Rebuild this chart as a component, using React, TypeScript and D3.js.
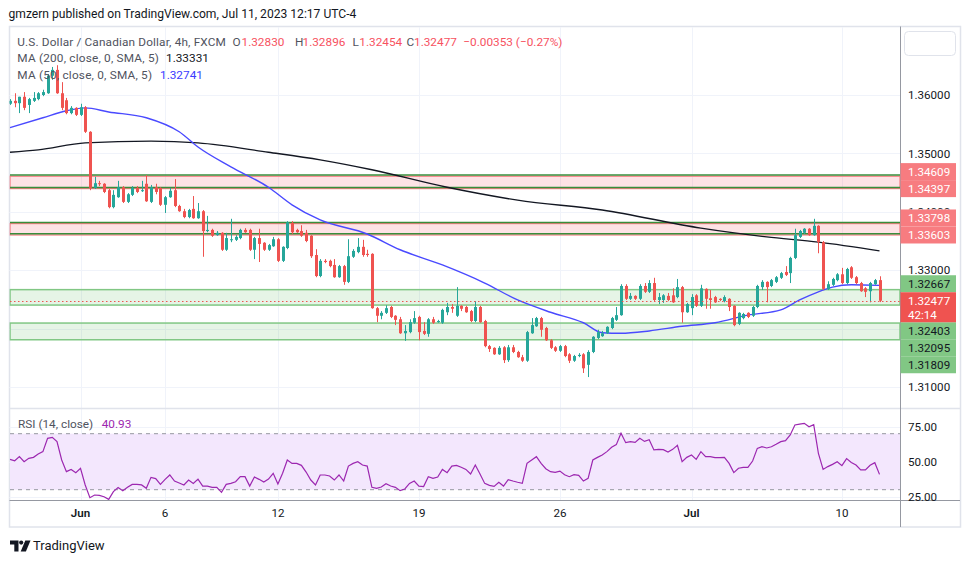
import React from 'react';
import * as d3 from 'd3';

// ---------- data ----------
const opens = [1.3585,1.3590,1.3586,1.3597,1.3583,1.3590,1.3593,1.3600,1.3603,1.3633,1.3643,1.3603,1.3591,1.3569,1.3578,1.3566,1.3579,1.3537,1.3441,1.3449,1.3448,1.3437,1.3408,1.3425,1.3442,1.3417,1.3429,1.3441,1.3436,1.3448,1.3417,1.3442,1.3441,1.3412,1.3425,1.3437,1.3410,1.3401,1.3391,1.3405,1.3389,1.3401,1.3367,1.3369,1.3360,1.3364,1.3335,1.3352,1.3352,1.3355,1.3369,1.3369,1.3335,1.3355,1.3347,1.3335,1.3341,1.3353,1.3316,1.3338,1.3381,1.3369,1.3367,1.3364,1.3359,1.3326,1.3290,1.3316,1.3316,1.3309,1.3288,1.3307,1.3280,1.3323,1.3331,1.3340,1.3328,1.3328,1.3235,1.3222,1.3227,1.3237,1.3222,1.3216,1.3192,1.3194,1.3210,1.3220,1.3196,1.3191,1.3216,1.3211,1.3210,1.3228,1.3237,1.3222,1.3239,1.3237,1.3230,1.3213,1.3237,1.3213,1.3170,1.3167,1.3156,1.3168,1.3146,1.3168,1.3160,1.3151,1.3145,1.3192,1.3204,1.3218,1.3201,1.3180,1.3168,1.3162,1.3170,1.3156,1.3145,1.3153,1.3156,1.3138,1.3160,1.3184,1.3187,1.3192,1.3201,1.3215,1.3223,1.3273,1.3251,1.3256,1.3251,1.3273,1.3263,1.3278,1.3249,1.3249,1.3256,1.3257,1.3254,1.3271,1.3228,1.3235,1.3257,1.3239,1.3268,1.3252,1.3254,1.3251,1.3247,1.3251,1.3239,1.3208,1.3218,1.3227,1.3222,1.3237,1.3271,1.3280,1.3273,1.3280,1.3287,1.3297,1.3295,1.3321,1.3357,1.3364,1.3371,1.3360,1.3376,1.3348,1.3268,1.3275,1.3283,1.3293,1.3278,1.3305,1.3288,1.3278,1.3269,1.3264,1.3276,1.32830];
const highs = [1.3593,1.3603,1.3597,1.3605,1.3595,1.3605,1.3605,1.3609,1.3636,1.3648,1.3651,1.3622,1.3595,1.3581,1.3579,1.3585,1.3581,1.3538,1.3460,1.3453,1.3449,1.3439,1.3437,1.3453,1.3444,1.3432,1.3444,1.3444,1.3453,1.3463,1.3446,1.3448,1.3442,1.3427,1.3441,1.3456,1.3412,1.3405,1.3405,1.3427,1.3415,1.3403,1.3393,1.3371,1.3367,1.3365,1.3364,1.3388,1.3360,1.3371,1.3372,1.3371,1.3357,1.3371,1.3348,1.3345,1.3357,1.3355,1.3341,1.3384,1.3384,1.3371,1.3377,1.3369,1.3360,1.3336,1.3319,1.3319,1.3318,1.3319,1.3309,1.3309,1.3353,1.3336,1.3355,1.3352,1.3335,1.3329,1.3237,1.3230,1.3240,1.3239,1.3223,1.3220,1.3206,1.3216,1.3230,1.3222,1.3211,1.3218,1.3220,1.3215,1.3234,1.3244,1.3242,1.3271,1.3240,1.3239,1.3232,1.3247,1.3239,1.3215,1.3172,1.3168,1.3170,1.3170,1.3172,1.3172,1.3162,1.3155,1.3196,1.3218,1.3220,1.3220,1.3203,1.3182,1.3170,1.3172,1.3172,1.3158,1.3155,1.3158,1.3158,1.3163,1.3187,1.3198,1.3196,1.3204,1.3220,1.3237,1.3276,1.3276,1.3261,1.3257,1.3276,1.3278,1.3283,1.3287,1.3261,1.3259,1.3261,1.3269,1.3285,1.3273,1.3244,1.3259,1.3259,1.3275,1.3269,1.3266,1.3256,1.3252,1.3257,1.3252,1.3240,1.3228,1.3227,1.3228,1.3239,1.3275,1.3283,1.3281,1.3285,1.3290,1.3297,1.3307,1.3323,1.3371,1.3369,1.3372,1.3372,1.3388,1.3377,1.3350,1.3281,1.3287,1.3295,1.3304,1.3304,1.3307,1.3290,1.3280,1.3271,1.3280,1.3285,1.32896];
const lows = [1.3583,1.3579,1.3569,1.3574,1.3569,1.3588,1.3591,1.3598,1.3602,1.3626,1.3602,1.3574,1.3567,1.3567,1.3564,1.3564,1.3535,1.3437,1.3439,1.3444,1.3432,1.3406,1.3406,1.3424,1.3415,1.3415,1.3427,1.3432,1.3434,1.3417,1.3415,1.3430,1.3410,1.3398,1.3424,1.3408,1.3400,1.3389,1.3389,1.3388,1.3388,1.3323,1.3365,1.3357,1.3359,1.3333,1.3333,1.3348,1.3350,1.3353,1.3364,1.3333,1.3319,1.3314,1.3333,1.3333,1.3340,1.3314,1.3314,1.3336,1.3362,1.3364,1.3357,1.3348,1.3321,1.3288,1.3288,1.3312,1.3305,1.3287,1.3287,1.3275,1.3278,1.3321,1.3329,1.3323,1.3323,1.3234,1.3211,1.3216,1.3225,1.3218,1.3206,1.3191,1.3179,1.3192,1.3208,1.3180,1.3189,1.3186,1.3208,1.3210,1.3208,1.3223,1.3227,1.3220,1.3230,1.3227,1.3211,1.3211,1.3210,1.3168,1.3160,1.3155,1.3155,1.3141,1.3143,1.3158,1.3150,1.3143,1.3143,1.3191,1.3203,1.3186,1.3179,1.3165,1.3160,1.3160,1.3151,1.3141,1.3143,1.3151,1.3124,1.3117,1.3158,1.3182,1.3186,1.3191,1.3199,1.3213,1.3222,1.3249,1.3249,1.3249,1.3249,1.3261,1.3261,1.3247,1.3242,1.3244,1.3247,1.3244,1.3252,1.3210,1.3227,1.3223,1.3237,1.3237,1.3234,1.3234,1.3244,1.3247,1.3245,1.3230,1.3204,1.3206,1.3216,1.3218,1.3220,1.3235,1.3266,1.3245,1.3271,1.3278,1.3285,1.3290,1.3278,1.3319,1.3355,1.3362,1.3359,1.3359,1.3329,1.3266,1.3266,1.3273,1.3281,1.3276,1.3276,1.3285,1.3276,1.3263,1.3254,1.3245,1.3275,1.32454];
const closes = [1.3590,1.3586,1.3597,1.3578,1.3593,1.3595,1.3603,1.3605,1.3633,1.3643,1.3603,1.3578,1.3569,1.3578,1.3566,1.3579,1.3537,1.3441,1.3449,1.3448,1.3434,1.3408,1.3429,1.3442,1.3417,1.3430,1.3441,1.3434,1.3437,1.3418,1.3442,1.3434,1.3412,1.3425,1.3436,1.3410,1.3401,1.3391,1.3403,1.3389,1.3401,1.3367,1.3369,1.3359,1.3364,1.3335,1.3355,1.3353,1.3357,1.3369,1.3365,1.3335,1.3355,1.3345,1.3335,1.3343,1.3353,1.3316,1.3340,1.3382,1.3365,1.3365,1.3359,1.3350,1.3324,1.3290,1.3316,1.3314,1.3307,1.3288,1.3307,1.3280,1.3324,1.3333,1.3340,1.3326,1.3326,1.3235,1.3222,1.3227,1.3235,1.3220,1.3215,1.3192,1.3196,1.3211,1.3218,1.3194,1.3191,1.3216,1.3210,1.3213,1.3232,1.3237,1.3234,1.3239,1.3234,1.3228,1.3213,1.3237,1.3211,1.3170,1.3165,1.3156,1.3167,1.3146,1.3168,1.3160,1.3151,1.3145,1.3194,1.3206,1.3218,1.3198,1.3180,1.3167,1.3162,1.3170,1.3153,1.3145,1.3153,1.3155,1.3132,1.3160,1.3186,1.3194,1.3192,1.3203,1.3218,1.3223,1.3273,1.3251,1.3256,1.3251,1.3273,1.3263,1.3278,1.3249,1.3254,1.3257,1.3249,1.3245,1.3271,1.3228,1.3242,1.3254,1.3239,1.3269,1.3251,1.3249,1.3245,1.3249,1.3254,1.3237,1.3206,1.3227,1.3225,1.3220,1.3237,1.3273,1.3280,1.3271,1.3283,1.3288,1.3295,1.3292,1.3321,1.3360,1.3367,1.3371,1.3360,1.3376,1.3348,1.3268,1.3276,1.3285,1.3293,1.3278,1.3302,1.3287,1.3278,1.3264,1.3263,1.3278,1.3283,1.32477];

const rsiValues = [51.7,50.7,53.6,50.0,52.4,53.1,55.5,57.2,66.7,67.4,64.3,51.2,42.9,44.5,42.2,45.3,33.4,24.3,26.2,26.0,25.0,23.1,28.6,31.5,29.3,31.7,33.8,33.8,33.4,31.0,38.8,37.9,33.8,37.4,40.5,36.2,34.8,33.4,36.9,34.5,37.6,32.6,32.6,31.7,31.7,28.1,33.8,34.5,35.7,39.3,39.3,32.6,39.1,37.4,35.5,37.6,41.7,34.1,41.7,51.2,48.8,48.8,47.4,42.6,36.9,33.4,40.5,40.5,39.8,36.9,40.5,36.2,46.9,48.8,50.0,47.6,46.9,31.7,31.0,31.9,34.3,32.6,31.7,29.3,30.5,34.5,36.2,32.6,32.2,39.3,38.1,39.1,44.5,42.2,46.9,47.4,46.0,44.5,41.2,47.6,41.2,34.5,33.1,32.4,35.3,32.6,37.2,36.2,35.3,34.5,48.8,51.2,53.6,48.8,45.0,42.9,42.4,43.3,40.7,39.3,40.7,40.3,36.2,38.1,51.2,53.1,54.8,57.2,60.3,62.2,70.3,63.6,64.3,63.8,66.7,64.5,65.7,58.4,58.8,58.6,56.9,58.8,61.7,50.0,53.1,54.8,51.7,57.2,53.6,53.6,52.9,52.9,53.1,48.8,42.2,45.3,46.0,46.0,50.5,59.5,60.7,59.8,60.7,62.4,64.3,65.0,69.1,76.2,76.9,77.4,75.0,76.5,56.0,44.5,46.5,48.1,50.0,47.2,52.2,49.5,47.6,44.1,44.1,47.4,49.3,40.93];

const ma50Idx = [0,7,12,16,21,29,36,40,47,55,60,66,76,83,92,101,108,115,122,126,130,136,143,150,157,164,168,172,175,179,185];
const ma50Val = [1.3544,1.3561,1.3573,1.3578,1.3571,1.3561,1.3537,1.3511,1.3477,1.3442,1.3412,1.3386,1.3362,1.3335,1.3309,1.3278,1.3249,1.3228,1.3210,1.3193,1.3192,1.3196,1.3204,1.3210,1.3223,1.3232,1.3249,1.3263,1.3271,1.3275,1.32741];
const ma200Idx = [0,6,16,30,40,55,66,77,93,108,126,147,161,172,185];
const ma200Val = [1.3502,1.3506,1.3518,1.3521,1.3518,1.3502,1.3489,1.3472,1.3442,1.3420,1.3403,1.3372,1.3357,1.3348,1.33331];

const priceTicks = [1.36, 1.35, 1.34, 1.33, 1.32, 1.31];
const rsiTicks = [75, 50, 25];
const dateTickIdx = [15, 33, 57, 87, 117, 145, 177];
const dateTickLabels = ['Jun', '6', '12', '19', '26', 'Jul', '10'];
const dateTickMonth = [true, false, false, false, false, true, false];
const redZones = [[1.34609, 1.34397], [1.33798, 1.33603]];
const greenZones = [[1.32667, 1.32403], [1.32095, 1.31809]];
const redLevels = [1.34609, 1.34397, 1.33798, 1.33603];
const greenLevels = [1.32667, 1.32403, 1.32095, 1.31809];
const lastOHLC = ['1.32830', '1.32896', '1.32454', '1.32477'];
const lastChange = '−0.00353 (−0.27%)';
const lastPrice = 1.32477;
const countdown = '42:14';

// ---------- layout ----------
const FONT = 'Roboto, "Noto Sans", sans-serif';
const L = 9.5, R = 900.5, TOP = 27, SEP = 408, AXB = 500.5, BOT = 527;
const x = d3.scaleLinear().domain([0, 189.36]).range([10, 900]);
const y = d3.scaleLinear().domain([1.31, 1.36]).range([387, 95]);
const yR = d3.scaleLinear().domain([25, 75]).range([496.7, 426.7]);

const GREEN = '#26a69a', RED = '#ef5350';
const LBL_H = 17;

function layoutLabels() {
  const anchor = y(lastPrice);
  const aTop = anchor - 8.5, aBot = anchor + 21.5;
  const all = [
    ...redLevels.map(p => ({ p, kind: 'red' })),
    ...greenLevels.map(p => ({ p, kind: 'green' })),
  ].map(d => ({ ...d, yy: y(d.p), cy: 0 }));
  const above = all.filter(d => d.yy <= anchor).sort((a, b) => b.yy - a.yy);
  const below = all.filter(d => d.yy > anchor).sort((a, b) => a.yy - b.yy);
  let lim = aTop;
  above.forEach(d => { d.cy = Math.min(d.yy, lim - LBL_H / 2); lim = d.cy - LBL_H / 2; });
  lim = aBot;
  below.forEach(d => { d.cy = Math.max(d.yy, lim + LBL_H / 2); lim = d.cy + LBL_H / 2; });
  return { items: [...above, ...below], aTop, aBot, anchor };
}

export default function App() {
  const candleIdx = d3.range(closes.length);
  const ma50Path = d3.line<number>().x(i => x(ma50Idx[i])).y(i => y(ma50Val[i])).curve(d3.curveMonotoneX)(d3.range(ma50Idx.length));
  const ma200Path = d3.line<number>().x(i => x(ma200Idx[i])).y(i => y(ma200Val[i])).curve(d3.curveMonotoneX)(d3.range(ma200Idx.length));
  const rsiPath = d3.line<number>().x(i => x(i)).y(i => yR(rsiValues[i]))(d3.range(rsiValues.length));
  const lab = layoutLabels();
  const fmt = d3.format('.5f');

  const boxes = [
    ...lab.items.map(d => [d.cy - LBL_H / 2, d.cy + LBL_H / 2]),
    [lab.aTop, lab.aBot],
  ];
  const tickVis = priceTicks.map(p => {
    const ty = y(p);
    const top = ty - 6, bot = ty + 5;
    const cover = boxes.find(b => b[0] < bot && b[1] > top);
    if (!cover) return { p, ty, clipBot: null as number | null, show: true };
    if (cover[0] <= top + 1) return { p, ty, clipBot: null, show: false };
    return { p, ty, clipBot: cover[0], show: true };
  });

  return (
    <svg width={970} height={563} style={{ position: 'absolute', left: 0, top: 0, background: '#fff' }} fontFamily={FONT}>
      <defs>
        <clipPath id="mainClip"><rect x={L} y={TOP} width={R - L} height={SEP - TOP} /></clipPath>
        <clipPath id="rsiClip"><rect x={L} y={SEP} width={R - L} height={AXB - SEP} /></clipPath>
        {tickVis.map((t, i) => t.clipBot !== null ? (
          <clipPath key={'tc' + i} id={'tickClip' + i}><rect x={901} y={t.ty - 10} width={60} height={t.clipBot - (t.ty - 10)} /></clipPath>
        ) : null)}
      </defs>
      <rect x={0} y={0} width={970} height={563} fill="#fff" />
      <text x={8.5} y={18} fontSize={12.1} fill="#131722">gmzern published on TradingView.com, Jul 11, 2023 12:17 UTC-4</text>

      {/* frame */}
      <rect x={L} y={TOP - 0.5} width={960.5 - L} height={BOT - TOP + 0.5} fill="#fff" stroke="#e0e3eb" strokeWidth={1.5} />

      {/* grid */}
      {dateTickIdx.map((d, i) => (
        <line key={'vg' + i} x1={Math.round(x(d)) + 0.5} x2={Math.round(x(d)) + 0.5} y1={TOP} y2={AXB} stroke="#f0f3fa" />
      ))}
      {priceTicks.map((p, i) => (
        <line key={'hg' + i} x1={L} x2={R} y1={Math.round(y(p)) + 0.5} y2={Math.round(y(p)) + 0.5} stroke="#f0f3fa" />
      ))}
      {rsiTicks.map((r, i) => (
        <line key={'rg' + i} x1={L} x2={R} y1={Math.round(yR(r)) + 0.5} y2={Math.round(yR(r)) + 0.5} stroke="#f0f3fa" />
      ))}

      {/* main pane */}
      <g clipPath="url(#mainClip)">
        {greenZones.map((z, i) => (
          <rect key={'gz' + i} x={10} y={y(z[0])} width={890} height={y(z[1]) - y(z[0])} fill="rgba(76,175,80,0.14)" stroke="#81c784" strokeWidth={1.5} />
        ))}
        {redZones.map((z, i) => (
          <g key={'rz' + i}>
            <rect x={10} y={y(z[0])} width={890} height={y(z[1]) - y(z[0])} fill="rgba(242,54,69,0.14)" stroke="#f77c80" strokeWidth={1.2} />
            <line x1={10} x2={900} y1={y(z[0]) - 1.2} y2={y(z[0]) - 1.2} stroke="#388e3c" strokeWidth={1.5} />
            <line x1={10} x2={900} y1={y(z[1]) - 1.2} y2={y(z[1]) - 1.2} stroke="#388e3c" strokeWidth={1.5} />
          </g>
        ))}
        <path d={ma200Path || ''} fill="none" stroke="#131722" strokeWidth={1.4} />
        <path d={ma50Path || ''} fill="none" stroke="#4a4aff" strokeWidth={1.4} />
        {candleIdx.map(i => {
          const o = opens[i], c = closes[i];
          const col = c >= o ? GREEN : RED;
          const cx = Math.round(x(i)) + 0.5;
          const yt = y(Math.max(o, c)), yb = y(Math.min(o, c));
          return (
            <g key={'c' + i}>
              <line x1={cx} x2={cx} y1={y(highs[i])} y2={y(lows[i])} stroke={col} strokeWidth={1} />
              <rect x={cx - 1.5} y={yt} width={3} height={Math.max(1, yb - yt)} fill={col} />
            </g>
          );
        })}
        <line x1={10} x2={900} y1={Math.round(y(lastPrice)) + 0.5} y2={Math.round(y(lastPrice)) + 0.5} stroke={RED} strokeDasharray="1.5 2.5" />
      </g>

      {/* legend */}
      <g fontSize={11.8} fill="#50535e">
        <text x={17.3} y={45.7} letterSpacing={0.15}>U.S. Dollar / Canadian Dollar, 4h, FXCM</text>
        <text x={232.5} y={45.7}>O</text>
        <text x={241.5} y={45.7} fill="#f7525f">{lastOHLC[0]}</text>
        <text x={295} y={45.7}>H</text>
        <text x={302.5} y={45.7} fill="#f7525f">{lastOHLC[1]}</text>
        <text x={352.5} y={45.7}>L</text>
        <text x={359.3} y={45.7} fill="#f7525f">{lastOHLC[2]}</text>
        <text x={406.5} y={45.7}>C</text>
        <text x={414} y={45.7} fill="#f7525f">{lastOHLC[3]}</text>
        <text x={463.3} y={45.7} fill="#f7525f">{lastChange}</text>
        <text x={17.3} y={62.3} letterSpacing={0.2}>MA (200, close, 0, SMA, 5)</text>
        <text x={166} y={62.3} fill="#131722">{fmt(ma200Val[ma200Val.length - 1])}</text>
        <text x={17.3} y={79} letterSpacing={0.2}>MA (50, close, 0, SMA, 5)</text>
        <text x={160} y={79} fill="#3b3bff">{fmt(ma50Val[ma50Val.length - 1])}</text>
      </g>

      {/* pane separator */}
      <line x1={L} x2={960} y1={SEP + 0.5} y2={SEP + 0.5} stroke="#e0e3eb" strokeWidth={1.5} />

      {/* RSI pane */}
      <g clipPath="url(#rsiClip)">
        <rect x={10} y={yR(70)} width={890} height={yR(30) - yR(70)} fill="#f3e7fd" />
        <line x1={10} x2={900} y1={yR(70)} y2={yR(70)} stroke="#9598a1" strokeDasharray="4 4" />
        <line x1={10} x2={900} y1={yR(30)} y2={yR(30)} stroke="#9598a1" strokeDasharray="4 4" />
        <path d={rsiPath || ''} fill="none" stroke="#9c27b0" strokeWidth={1.2} />
      </g>
      <g fontSize={11.8} fill="#50535e">
        <text x={18} y={428}>RSI (14, close)</text>
        <text x={101.7} y={428} fill="#9c27b0">{rsiValues[rsiValues.length - 1].toFixed(2)}</text>
      </g>

      {/* axes lines */}
      <line x1={L} x2={960} y1={AXB} y2={AXB} stroke="#9598a1" strokeWidth={1} />
      <line x1={R} x2={R} y1={TOP - 0.5} y2={BOT} stroke="#9598a1" strokeWidth={1} />

      {/* date labels */}
      {dateTickIdx.map((d, i) => (
        <text key={'dl' + i} x={x(d)} y={517} fontSize={11.6} textAnchor="middle" fill="#131722" fontWeight={dateTickMonth[i] ? 600 : 400}>{dateTickLabels[i]}</text>
      ))}

      {/* price axis ticks */}
      {tickVis.map((t, i) => t.show ? (
        <text key={'pl' + i} x={908} y={t.ty + 4.2} fontSize={11.6} fill="#131722" clipPath={t.clipBot !== null ? `url(#tickClip${i})` : undefined}>{fmt(t.p)}</text>
      ) : null)}
      {rsiTicks.map((r, i) => (
        <text key={'rl' + i} x={908} y={yR(r) + 4.2} fontSize={11.6} fill="#131722">{r.toFixed(2)}</text>
      ))}

      {/* price labels */}
      {lab.items.map((d, i) => (
        <g key={'lb' + i}>
          <rect x={900.5} y={d.cy - LBL_H / 2} width={55.5} height={LBL_H} fill={d.kind === 'red' ? '#f77c80' : '#81c784'} />
          <text x={908} y={d.cy + 4.2} fontSize={11.6} fill={d.kind === 'red' ? '#fff' : '#131722'}>{fmt(d.p)}</text>
        </g>
      ))}
      <rect x={900.5} y={lab.aTop} width={55.5} height={30} fill={RED} />
      <text x={908} y={lab.anchor + 4.2} fontSize={11.6} fill="#fff">{fmt(lastPrice)}</text>
      <text x={908} y={lab.anchor + 18} fontSize={11.6} fill="#fff">{countdown}</text>

      {/* top-right box */}
      <rect x={904.5} y={31.5} width={51} height={24} rx={4} fill="#fff" stroke="#e0e3eb" />

      {/* footer logo */}
      <g fill="#131722">
        <path d="M10 540.5h8.5v11h-4.2v-7H10z" />
        <circle cx={21.2} cy={542.6} r={2.1} />
        <path d="M25.3 540.5h5.2l-4.6 11h-5.2z" />
      </g>
      <text x={33} y={550} fontSize={13} fill="#131722">TradingView</text>
    </svg>
  );
}
